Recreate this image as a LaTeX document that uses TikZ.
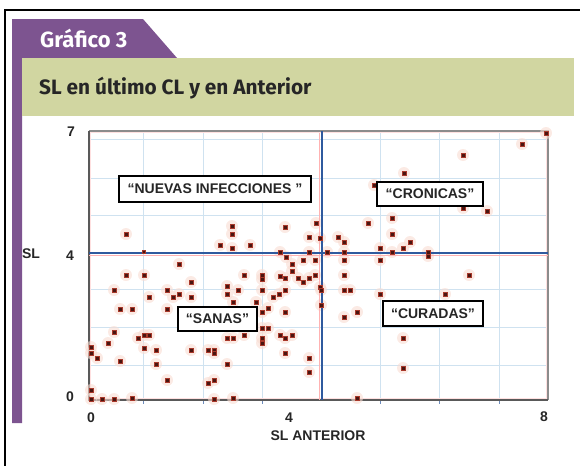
\documentclass[tikz,border=0pt]{standalone}
\usepackage{fontspec}
\setmainfont{Liberation Sans}
\newfontfamily\titlefont{Fira Sans}
\definecolor{tabpurple}{HTML}{7D5490}
\definecolor{bandgreen}{HTML}{D1D6A1}
\definecolor{gridblue}{HTML}{CFE2F0}
\definecolor{lineblue}{HTML}{2F5A9E}
\definecolor{dotfill}{HTML}{4A1510}
\definecolor{dotedge}{HTML}{A8382A}
\definecolor{halo}{HTML}{F8DCD2}
\tikzset{
  dotmark/.style={fill=dotfill,draw=dotedge,line width=0.6pt,minimum size=4.4pt,inner sep=0pt,rectangle},
  halomark/.style={fill=halo,opacity=0.6,circle,minimum size=12pt,inner sep=0pt,draw=none},
  labelbox/.style={draw=black,line width=2.4pt,fill=white,inner sep=0pt,font=\bfseries\fontsize{14}{16}\selectfont,text=black!85},
  axislab/.style={font=\bfseries\fontsize{14}{16}\selectfont,inner sep=0pt,text=black!85},
  gridln/.style={draw=gridblue,line width=0.7pt},
}
\begin{document}
\begin{tikzpicture}[x=1pt,y=-1pt]
\useasboundingbox (0,0) rectangle (580,466);
% outer frame
\draw[line width=1.6pt] (580,10) -- (5,10) -- (5,466);
% purple tab and strip
\fill[tabpurple] (12,19) -- (143,19) -- (177,58) -- (22,58) -- (22,423) -- (12,423) -- cycle;
\node[text=white,font=\titlefont\bfseries\fontsize{22}{24}\selectfont,anchor=base west,inner sep=0pt] (tabtxt) at (40,47) {Gráfico 3};
% green band
\fill[bandgreen] (22,58) rectangle (574,116);
\node[text=black!85,font=\titlefont\fontsize{20.8}{23}\selectfont,anchor=base west,inner sep=0pt] (title) at (39,94) {\textbf{SL en último CL y en Anterior}};
% grid
\foreach \gx in {143,203,262,380,439,499}{
  \draw[gridln] (\gx,131) -- (\gx,400);
  \draw[draw=lineblue!70,line width=0.8pt] (\gx,401) -- (\gx,404);
}
\foreach \gy in {139,178,215,289,327,365}{
  \draw[gridln] (89,\gy) -- (548,\gy);
}
% plot frame
\draw[draw=red!12,line width=0.6pt] (90.5,132.5) rectangle (546.5,398.5);
\draw[draw=black!45,line width=1.6pt] (89,131) -- (548,131) -- (548,400);
\draw[draw=black!65,line width=1.8pt] (89,131) -- (89,400) -- (548,400);
% halos
\foreach \px/\py in {546/133,522/144,463/155,404/173,374/185,463/208,487/211,126/234,232/226,232/234,285/227,316/223,309/237,320/238,220/245,232/248,250/245,368/223,392/218,392/234,338/237,344/242,410/242,403/248,380/248,280/252,309/252,392/252,428/252,344/252,327/252,286/257,428/256,179/264,292/264,303/260,315/260,344/260,380/260,292/271,126/275,144/275,244/275,262/275,262/279,280/276,285/278,298/278,309/278,315/275,344/275,469/275,191/282,303/282,320/287,114/290,167/290,227/286,238/290,262/290,285/290,321/290,344/290,350/290,149/297,173/297,179/294,191/297,227/294,273/297,279/294,380/294,445/294,233/302,256/302,321/305,120/309,132/309,167/309,262/312,268/308,285/312,344/317,357/312,262/328,268/328,114/332,108/343,138/338,144/335,149/335,144/348,156/350,191/350,208/350,214/350,214/353,227/338,233/338,244/335,262/338,262/343,280/335,285/338,292/335,285/353,403/338,91/347,91/353,97/358,120/361,156/364,227/364,309/358,309/372,403/368,167/380,208/383,214/380,91/390,91/399,102/399,114/399,132/398,214/399,233/398,357/398}{
  \node[halomark] at (\px,\py) {};
}
% blue divider lines
\draw[draw=red!30,line width=0.6pt] (89,255.5) -- (548,255.5);
\draw[draw=red!30,line width=0.6pt] (319.7,133) -- (319.7,400);
\draw[draw=lineblue,line width=2.4pt] (89,253) -- (548,253);
\draw[draw=lineblue,line width=2.4pt] (322,131) -- (322,400);
% dots
\foreach \px/\py in {546/133,522/144,463/155,404/173,374/185,463/208,487/211,126/234,232/226,232/234,285/227,316/223,309/237,320/238,220/245,232/248,250/245,368/223,392/218,392/234,338/237,344/242,410/242,403/248,380/248,280/252,309/252,392/252,428/252,344/252,327/252,286/257,428/256,179/264,292/264,303/260,315/260,344/260,380/260,292/271,126/275,144/275,244/275,262/275,262/279,280/276,285/278,298/278,309/278,315/275,344/275,469/275,191/282,303/282,320/287,114/290,167/290,227/286,238/290,262/290,285/290,321/290,344/290,350/290,149/297,173/297,179/294,191/297,227/294,273/297,279/294,380/294,445/294,233/302,256/302,321/305,120/309,132/309,167/309,262/312,268/308,285/312,344/317,357/312,262/328,268/328,114/332,108/343,138/338,144/335,149/335,144/348,156/350,191/350,208/350,214/350,214/353,227/338,233/338,244/335,262/338,262/343,280/335,285/338,292/335,285/353,403/338,91/347,91/353,97/358,120/361,156/364,227/364,309/358,309/372,403/368,167/380,208/383,214/380,91/390,91/399,102/399,114/399,132/398,214/399,233/398,357/398}{
  \node[dotmark] at (\px,\py) {};
}
\node[dotmark,minimum size=3pt] at (144,252) {};
% quadrant labels
\node[labelbox,minimum width=192pt,minimum height=26pt] (nuevas) at (215,189) {“NUEVAS INFECCIONES ”};
\node[labelbox,minimum width=106pt,minimum height=24pt] (cronicas) at (430,194) {“CRONICAS”};
\node[labelbox,minimum width=79pt,minimum height=24pt] (sanas) at (217.5,319) {“SANAS”};
\node[labelbox,minimum width=100pt,minimum height=25pt] (curadas) at (433,313.5) {“CURADAS”};
% axis labels
\node[axislab] (y7) at (71,132) {7};
\node[axislab] (y4) at (70,256) {4};
\node[axislab] (y0) at (70,397) {0};
\node[axislab] (ysl) at (31,254) {SL};
\node[axislab] (x0) at (91,418) {0};
\node[axislab] (x4) at (289,418) {4};
\node[axislab] (x8) at (544,417) {8};
\node[axislab] (xsl) at (318,436) {SL ANTERIOR};
\end{tikzpicture}
\end{document}
